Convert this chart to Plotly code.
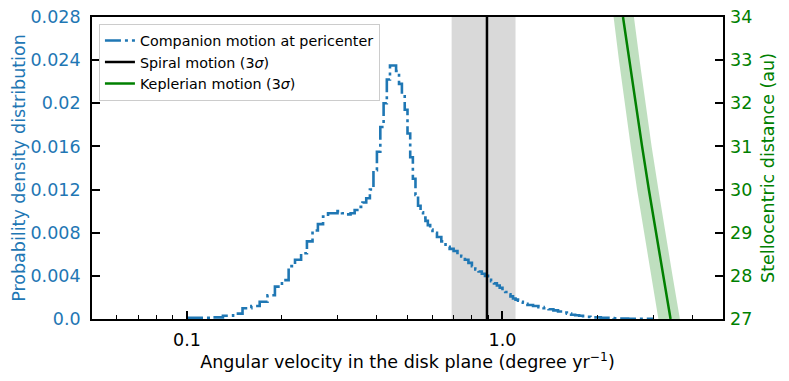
import math
import plotly.graph_objects as go

# Histogram of companion angular velocity at pericenter (step, dash-dot)
# left bin edges (degree/yr) and density values
pdf_edges = [0.10, 0.11, 0.12, 0.13, 0.14, 0.15, 0.16, 0.17, 0.18, 0.19,
             0.20, 0.21, 0.22, 0.23, 0.24, 0.25, 0.26, 0.27, 0.28, 0.29,
             0.30, 0.31, 0.32, 0.33, 0.34, 0.35, 0.36, 0.37, 0.38, 0.39,
             0.40, 0.41, 0.42, 0.43, 0.44, 0.45, 0.46, 0.47, 0.48, 0.49,
             0.50, 0.51, 0.52, 0.53, 0.54, 0.55, 0.56, 0.57, 0.58, 0.59,
             0.60, 0.62, 0.64, 0.66, 0.68, 0.70, 0.72, 0.74, 0.76, 0.78,
             0.80, 0.82, 0.84, 0.86, 0.88, 0.90, 0.92, 0.94, 0.96, 0.98,
             1.00, 1.02, 1.04, 1.06, 1.08, 1.10, 1.12, 1.14, 1.16, 1.18,
             1.20, 1.25, 1.30, 1.35, 1.40, 1.45, 1.50, 1.55, 1.60, 1.65,
             1.70, 1.75, 1.80, 1.85, 1.90, 1.95, 2.00, 2.05, 2.10, 2.15,
             2.20, 2.25, 2.30, 2.35, 2.40, 2.45, 2.50, 2.55, 2.60, 2.65,
             2.70, 2.75, 2.80, 2.85, 2.90, 2.95, 3.00]
pdf_vals = [0.0001, 0.0001, 0.00015, 0.0003, 0.0005, 0.0010, 0.0012, 0.0016, 0.0022, 0.0030,
            0.0036, 0.0049, 0.0055, 0.0061, 0.0072, 0.0082, 0.0088, 0.0095, 0.0098, 0.0098,
            0.0100, 0.0098, 0.0097, 0.0098, 0.0101, 0.0104, 0.0108, 0.0112, 0.0120, 0.0138,
            0.0155, 0.0178, 0.0200, 0.0222, 0.0235, 0.0235, 0.0230, 0.0218, 0.0208, 0.0194,
            0.0172, 0.0150, 0.0130, 0.0115, 0.0105, 0.0099, 0.0094, 0.0091, 0.0087, 0.0083,
            0.0080, 0.0076, 0.0072, 0.0067, 0.0065, 0.0063, 0.0060, 0.0058, 0.0055, 0.0052,
            0.0049, 0.0046, 0.0044, 0.0042, 0.0040, 0.0038, 0.0035, 0.0033, 0.0031, 0.0029,
            0.0026, 0.0025, 0.0023, 0.0021, 0.0019, 0.0018, 0.0017, 0.0016, 0.0015, 0.0014,
            0.0013, 0.0012, 0.0011, 0.0010, 0.0009, 0.0008, 0.0007, 0.0006, 0.0005, 0.0004,
            0.00035, 0.0003, 0.00025, 0.0002, 0.00018, 0.00015, 0.00015, 0.00012, 0.0001, 0.0001,
            0.00008, 0.00007, 0.00006, 0.00005, 0.00004, 0.00004, 0.00003, 0.00003, 0.00003, 0.00002,
            0.00002, 0.00002, 0.00002, 0.00001, 0.00001, 0.00001]

# Spiral motion (3 sigma range + best value)
spiral_lo = 0.69
spiral_hi = 1.10
spiral_best = 0.893

# Keplerian motion vs stellocentric distance
kep_dist = [27, 28, 29, 30, 31, 32, 33, 34]
kep_v = [3.41, 3.23, 3.06, 2.91, 2.77, 2.64, 2.52, 2.41]
kep_lo = [3.12, 2.96, 2.80, 2.67, 2.55, 2.44, 2.34, 2.25]
kep_hi = [3.65, 3.46, 3.28, 3.12, 2.97, 2.84, 2.72, 2.61]

# axis ticks
pdf_ticks = [0.0, 0.004, 0.008, 0.012, 0.016, 0.02, 0.024, 0.028]
pdf_ticktext = ["0.0", "0.004", "0.008", "0.012", "0.016", "0.02", "0.024", "0.028"]
dist_ticks = [27, 28, 29, 30, 31, 32, 33, 34]
x_ticks = [0.1, 1.0]
x_ticktext = ["0.1", "1.0"]
x_minor = [0.06, 0.07, 0.08, 0.09, 0.2, 0.3, 0.4, 0.5, 0.6, 0.7, 0.8, 0.9,
           2, 3, 4, 5]

BLUE = "#1f77b4"
GREEN = "#008000"
FONT = "DejaVu Sans"

fig = go.Figure()

# gray band for spiral motion (full height of the left axis)
fig.add_trace(go.Scatter(
    x=[spiral_lo, spiral_lo, spiral_hi, spiral_hi],
    y=[pdf_ticks[0], pdf_ticks[-1], pdf_ticks[-1], pdf_ticks[0]],
    fill="toself", fillcolor="rgba(128,128,128,0.3)", mode="lines",
    line=dict(width=0), showlegend=False, hoverinfo="skip"
))

# histogram as steps
hx = pdf_edges
hy = pdf_vals + [pdf_vals[-1]]
fig.add_trace(go.Scatter(
    x=hx, y=hy, mode="lines", line_shape="hv",
    line=dict(color=BLUE, width=2.6, dash="16px,4px,3px,4px"),
    name="Companion motion at pericenter"
))

fig.add_trace(go.Scatter(
    x=[spiral_best, spiral_best], y=[pdf_ticks[0], pdf_ticks[-1]], mode="lines",
    line=dict(color="black", width=2.5),
    name="Spiral motion (3<i>σ</i>)"
))

# Keplerian band + line on the right axis
fig.add_trace(go.Scatter(
    x=kep_lo + kep_hi[::-1], y=kep_dist + kep_dist[::-1],
    fill="toself", fillcolor="rgba(0,128,0,0.25)", mode="lines",
    line=dict(width=0), yaxis="y2", showlegend=False, hoverinfo="skip"
))
fig.add_trace(go.Scatter(
    x=kep_v, y=kep_dist, mode="lines", yaxis="y2",
    line=dict(color=GREEN, width=2.5),
    name="Keplerian motion (3<i>σ</i>)"
))

# page body has an 8px margin, so the figure is 8px smaller than the window
fig.update_layout(
    width=781, height=373,
    margin=dict(l=84, r=66, t=9, b=62),
    plot_bgcolor="white", paper_bgcolor="white",
    font=dict(family=FONT, size=14, color="black"),
    showlegend=True,
    legend=dict(x=0.011, y=0.978, xanchor="left", yanchor="top",
                bgcolor="rgba(255,255,255,0.8)", bordercolor="#cccccc",
                borderwidth=1, font=dict(size=14.3, family=FONT),
                itemwidth=30),
    xaxis=dict(
        type="log", range=[math.log10(0.05), math.log10(5.0)],
        tickvals=x_ticks, ticktext=x_ticktext, automargin=False,
        ticks="inside", ticklen=8, tickwidth=1.5, tickcolor="black",
        minor=dict(tickvals=x_minor, ticks="inside", ticklen=4, tickwidth=1.2,
                   tickcolor="black"),
        showline=True, linecolor="black", linewidth=1.8, mirror=True,
        showgrid=False, zeroline=False, ticklabelstandoff=4,
        tickfont=dict(size=17.5, color="black"),
        title=dict(text="Angular velocity in the disk plane (degree yr<sup>−1</sup>)",
                   font=dict(size=17.5, color="black"), standoff=0),
    ),
    yaxis=dict(
        range=[0, 0.028], tickvals=pdf_ticks, ticktext=pdf_ticktext,
        automargin=False, ticklabeloverflow="allow",
        ticks="inside", ticklen=8, tickwidth=1.5, tickcolor="black",
        showline=True, linecolor="black", linewidth=1.8, mirror=True,
        showgrid=False, zeroline=False, ticklabelstandoff=6,
        tickfont=dict(size=17.5, color=BLUE),
        title=dict(text="Probability density distribution",
                   font=dict(size=17.5, color=BLUE), standoff=0),
    ),
    yaxis2=dict(
        range=[27, 34], tickvals=dist_ticks, overlaying="y", side="right",
        automargin=False, ticklabeloverflow="allow",
        ticks="inside", ticklen=8, tickwidth=1.5, tickcolor="black",
        showline=False, showgrid=False, zeroline=False, ticklabelstandoff=6,
        tickfont=dict(size=17.5, color=GREEN),
        title=dict(text="Stellocentric distance (au)",
                   font=dict(size=17.5, color=GREEN), standoff=10),
    ),
)

fig.write_html("out.html")
